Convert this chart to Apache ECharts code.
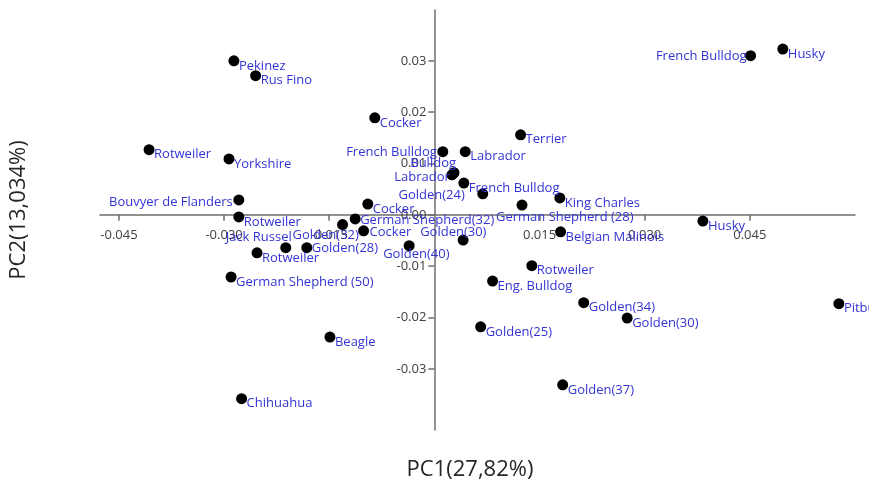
<!DOCTYPE html>
<html>
<head>
<meta charset="utf-8">
<script src="https://cdn.jsdelivr.net/npm/echarts@6/dist/echarts.min.js"></script>
<style>
html,body{margin:0;padding:0;background:#fff;}
#chart{width:869px;height:489px;}
</style>
</head>
<body>
<div id="chart"></div>
<script>
const names = ['Pekinez','Rus Fino','Cocker','Rotweiler','Yorkshire','French Bulldog','Husky','Terrier','French Bulldog','Labrador','Bulldog','Labrador','French Bulldog','Golden(24)','King Charles','German Shepherd (28)','Cocker','German Shepherd(32)','Golden(32)','Cocker','Golden(28)','Jack Russel','Rotweiler','Bouvyer de Flanders','Rotweiler','German Shepherd (50)','Golden(40)','Golden(30)','Belgian Malinois','Husky','Rotweiler','Eng. Bulldog','Golden(34)','Golden(30)','Golden(25)','Golden(37)','Pitbull','Beagle','Chihuahua'];
const pc1 = [-0.0286,-0.0255,-0.0085,-0.0407,-0.0293,0.0451,0.0497,0.0123,0.0012,0.0044,0.0028,0.0025,0.0042,0.0069,0.0179,0.0125,-0.0095,-0.0113,-0.0131,-0.0101,-0.0182,-0.0212,-0.0279,-0.0279,-0.0253,-0.0290,-0.0036,0.0041,0.0180,0.0383,0.0139,0.0083,0.0213,0.0275,0.0066,0.0183,0.0577,-0.0149,-0.0275];
const pc2 = [0.0300,0.0271,0.0189,0.0127,0.0109,0.0310,0.0323,0.0156,0.0123,0.0123,0.0082,0.0078,0.0062,0.0041,0.0033,0.0019,0.0021,-0.0008,-0.0019,-0.0031,-0.0064,-0.0064,-0.0004,0.0029,-0.0074,-0.0121,-0.0060,-0.0049,-0.0033,-0.0012,-0.0099,-0.0129,-0.0171,-0.0201,-0.0218,-0.0331,-0.0173,-0.0238,-0.0358];
const xTicks = [-0.045,-0.030,-0.015,0.015,0.030,0.045];
const yTicks = [-0.03,-0.02,-0.01,0,0.01,0.02,0.03];
const xTitle = 'PC1(27,82%)';
const yTitle = 'PC2(13,034%)';

// label placement (style only): [align, dx, dy] from point centre
const labelPlace = {
  5:['right',-4,1], 8:['right',-6,1], 10:['right',2,-9], 11:['right',-2,2],
  13:['right',-18,1], 15:['left',-26,12], 17:['left',5,1], 18:['left',-50,11],
  19:['left',6,2], 20:['left',5,1], 21:['right',6,-10], 23:['right',-6,2],
  26:['left',-26,9], 27:['left',-43,-8]
};
const SYM = 11;
const data = names.map((n,i)=>{
  const p = labelPlace[i] || ['left',5,5];
  return {
    name:n, value:[pc1[i],pc2[i]],
    label:{position:[SYM/2+p[1], SYM/2+p[2]], align:p[0], verticalAlign:'middle'}
  };
});

const W = 869, H = 489;
const G = {left:100, right:14, top:10, bottom:59};
const xMin = -0.0477, xMax = 0.0600, yMin = -0.0419, yMax = 0.0399;
// shift axes so that they cross at the origin (labels follow the axis line)
const gw = W - G.left - G.right, gh = H - G.top - G.bottom;
const zeroX = G.left + gw * (0 - xMin) / (xMax - xMin);
const zeroY = G.top + gh * (yMax - 0) / (yMax - yMin);
const xOffset = -((H - G.bottom) - zeroY);
const yOffset = -(zeroX - G.left);

const chart = echarts.init(document.getElementById('chart'), null, {renderer:'canvas'});
const axisCol = '#6e6e6e';
chart.setOption({
  animation:false,
  backgroundColor:'#ffffff',
  grid:{left:G.left, right:G.right, top:G.top, bottom:G.bottom, containLabel:false, outerBoundsMode:'none'},
  xAxis:{
    type:'value', min:xMin, max:xMax, position:'bottom', offset:xOffset,
    axisLine:{onZero:false, lineStyle:{color:axisCol, width:1.5}},
    axisTick:{show:true, length:6, customValues:xTicks, lineStyle:{color:axisCol, width:1.5}},
    axisLabel:{customValues:xTicks, margin:14, color:'#404040', fontSize:13, fontFamily:'Open Sans',
      formatter:v=>v.toFixed(3)},
    splitLine:{show:false},
    name:xTitle, nameLocation:'middle', nameGap:244,
    nameTextStyle:{fontSize:22, fontFamily:'Open Sans', color:'#262626', padding:[0,15,0,0]}
  },
  yAxis:{
    type:'value', min:yMin, max:yMax, position:'left', offset:yOffset,
    axisLine:{onZero:false, lineStyle:{color:axisCol, width:1.5}},
    axisTick:{show:true, length:6, customValues:yTicks, lineStyle:{color:axisCol, width:1.5}},
    axisLabel:{customValues:yTicks, margin:8, color:'#404040', fontSize:13, fontFamily:'Open Sans',
      formatter:v=>v.toFixed(2)},
    splitLine:{show:false},
    name:yTitle, nameLocation:'middle', nameGap:405, nameRotate:90,
    nameTextStyle:{fontSize:22, fontFamily:'Open Sans', color:'#262626', padding:[0,0,0,20]}
  },
  series:[{
    type:'scatter', symbol:'circle', symbolSize:SYM,
    itemStyle:{color:'#000000', opacity:1},
    label:{show:true, formatter:'{b}', color:'#3434d4', fontSize:13, fontFamily:'Open Sans', opacity:1},
    emphasis:{disabled:true},
    data:data
  }]
});
</script>
</body>
</html>
